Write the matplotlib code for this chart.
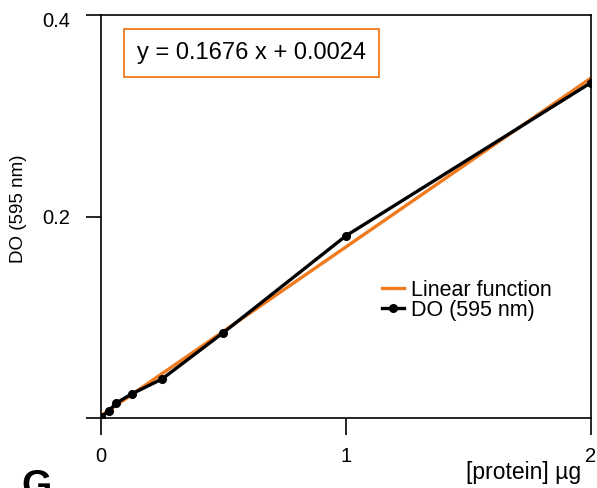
import numpy as np
import matplotlib
matplotlib.use('Agg')
import matplotlib.pyplot as plt
from matplotlib.transforms import ScaledTranslation

plt.rcParams['font.family'] = ['Liberation Sans', 'DejaVu Sans']

# 数据：蛋白质量 (µg) 与吸光度 DO (595 nm)
protein = [0, 0.03125, 0.0625, 0.125, 0.25, 0.5, 1, 2]
do_595 = [0.001, 0.007, 0.015, 0.024, 0.039, 0.085, 0.181, 0.333]

# 线性拟合参数
slope = 0.1676
intercept = 0.0024
fit_x = [0, 2]

fig = plt.figure(figsize=(5.97, 4.88), dpi=100)
ax = fig.add_axes([0.169, 0.143, 0.821, 0.826])

fit_y = [slope * x + intercept for x in fit_x]
ax.plot(fit_x, fit_y, color='#f07a1e', lw=2.4, label='Linear function', zorder=2)
ax.plot(protein, do_595, color='black', lw=2.4, marker='o', ms=5.5,
        label='DO (595 nm)', zorder=3)

ax.set_xlim(0, 2)
ax.set_ylim(0, 0.4)
ax.set_xticks([0, 1, 2])
ax.set_xticklabels(['0', '1', '2'])
ax.set_yticks([0, 0.2, 0.4])
ax.set_yticklabels(['', '0.2', '0.4'])
ax.tick_params(axis='x', direction='out', length=12, width=1.2, pad=9, labelsize=14.5)
ax.tick_params(axis='y', direction='out', length=11, width=1.2, pad=11, labelsize=14.5)
for s in ax.spines.values():
    s.set_linewidth(1.2)

ax.set_xlabel('[protein] µg', fontsize=16.5, ha='right')
ax.xaxis.set_label_coords(0.98, -0.105)
ax.set_ylabel('DO (595 nm)', fontsize=13.5)
ax.yaxis.set_label_coords(-0.15, 0.52)

# 方程文本框
ax.text(0.308, 0.907, f'y = {slope} x + {intercept}', transform=ax.transAxes,
        fontsize=17, ha='center', va='center',
        bbox=dict(boxstyle='square,pad=0.55', fc='white', ec='#f07a1e', lw=1.3))

ax.legend(loc='upper left', bbox_to_anchor=(0.556, 0.365), frameon=False,
          fontsize=15.5, handlelength=1.0, handletextpad=0.35, labelspacing=-0.05,
          borderaxespad=0)

fig.text(0.035, -0.035, 'G', fontsize=28, fontweight='bold', ha='left', va='bottom')

# 顶部 0.4 标签略向下移
fig.canvas.draw()
lab = ax.get_yticklabels()[2]
lab.set_transform(lab.get_transform() + ScaledTranslation(0, -4.5 / 100, fig.dpi_scale_trans))

plt.savefig('out.png', dpi=100)
